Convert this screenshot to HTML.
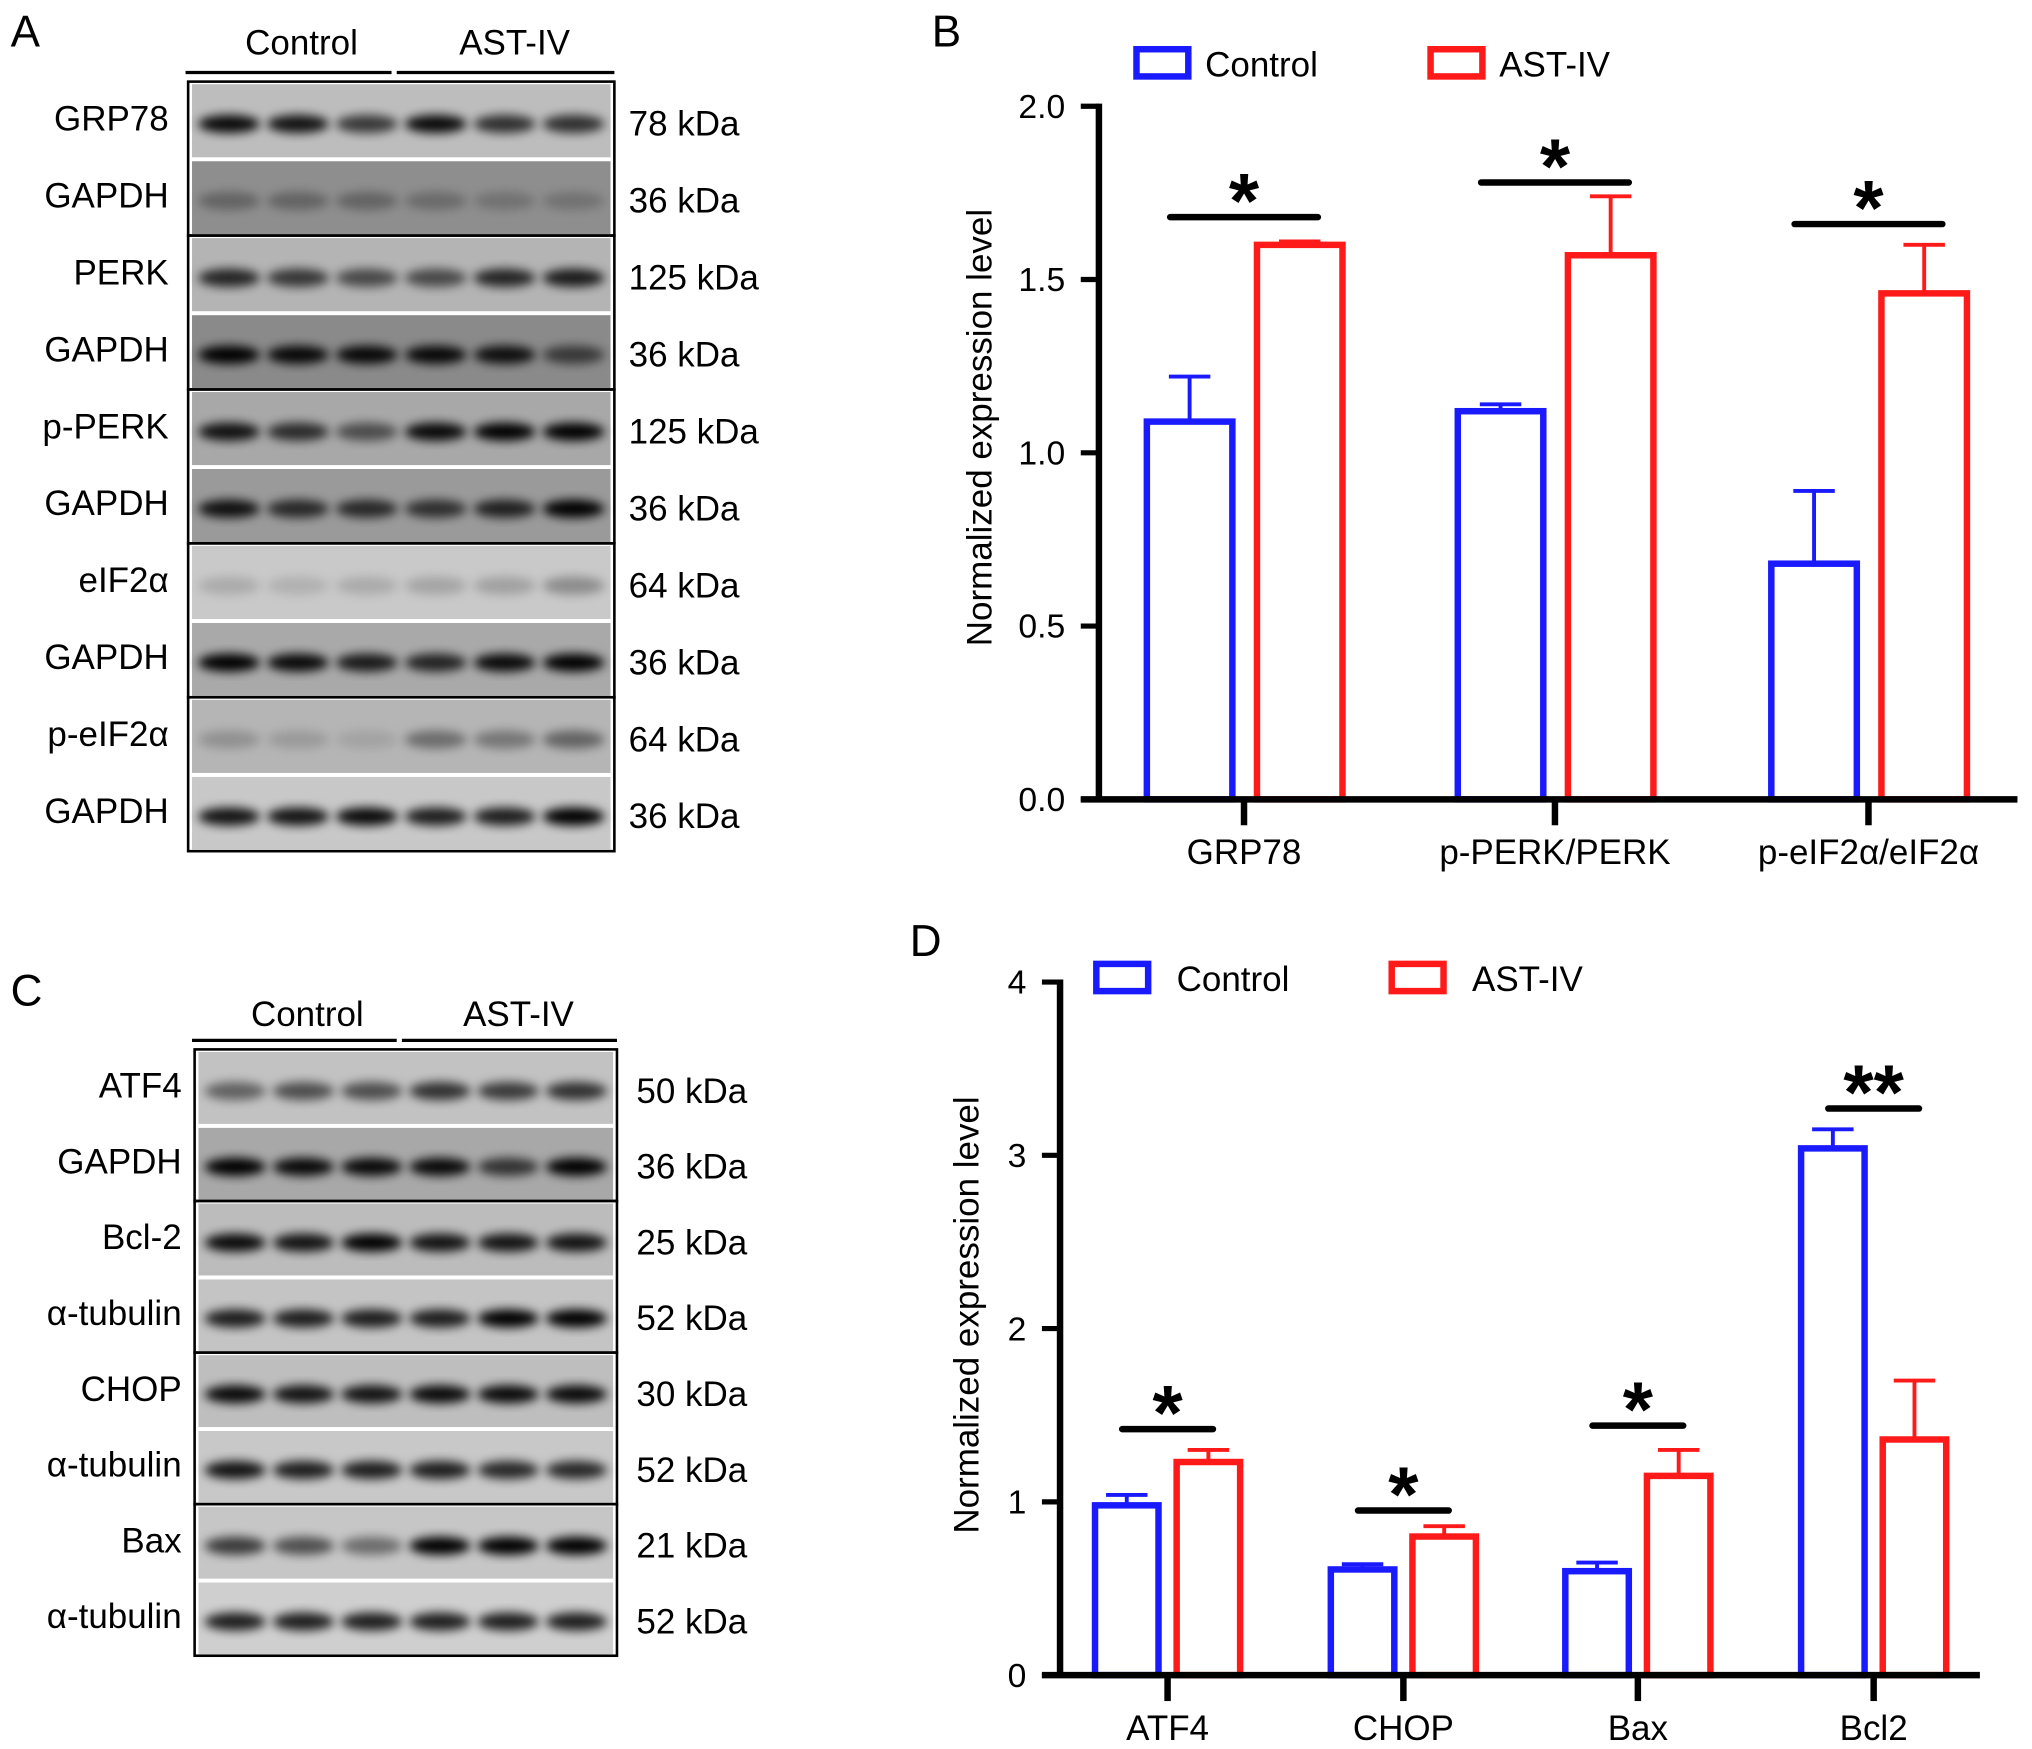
<!DOCTYPE html>
<html><head><meta charset="utf-8"><style>
html,body{margin:0;padding:0;background:#fff}
svg{display:block}
text{font-family:"Liberation Sans",Arial,sans-serif}
</style></head><body>
<svg id="fig" width="2032" height="1749" viewBox="0 0 1568 1350" xmlns="http://www.w3.org/2000/svg">
<defs>
<filter id="blur" x="-50%" y="-50%" width="200%" height="200%"><feGaussianBlur stdDeviation="4"/></filter>
</defs>
<text x="8" y="36" font-size="34">A</text>
<text x="719" y="36" font-size="34">B</text>
<text x="8" y="776" font-size="34">C</text>
<text x="702" y="738" font-size="34">D</text>
<g id="blots"></g>
<g id="chartB"></g>
<g id="chartD"></g>
</svg>
<script>
const NS="http://www.w3.org/2000/svg";
function mk(tag,attrs,parent,txt){const e=document.createElementNS(NS,tag);for(const k in attrs)e.setAttribute(k,attrs[k]);if(txt!==undefined)e.textContent=txt;parent.appendChild(e);return e;}

// ---- Chart B data ----
const catsB=["GRP78","p-PERK/PERK","p-eIF2\u03b1/eIF2\u03b1"];
const ctrlB=[1.09,1.12,0.68];
const ctrlErrB=[0.13,0.02,0.21];
const astB=[1.60,1.57,1.46];
const astErrB=[0.01,0.17,0.14];
const sigB=[1.68,1.78,1.66];
const sigLabB=["*","*","*"];
const ticksB=[0,0.5,1.0,1.5,2.0];
const tickLabB=["0.0","0.5","1.0","1.5","2.0"];

// ---- Chart D data ----
const catsD=["ATF4","CHOP","Bax","Bcl2"];
const ctrlD=[0.98,0.61,0.60,3.04];
const ctrlErrD=[0.06,0.03,0.05,0.11];
const astD=[1.23,0.80,1.15,1.36];
const astErrD=[0.07,0.06,0.15,0.34];
const sigD=[1.42,0.95,1.44,3.27];
const sigLabD=["*","*","*","**"];
const ticksD=[0,1,2,3,4];
const tickLabD=["0","1","2","3","4"];

function drawChart(g,o){
  const {x0,x1,y0,yTop,vmax,cats,ctrl,ctrlErr,ast,astErr,sig,sigLab,ticks,tickLab,centers,bw,gapL,gapR,sigHalf,titleX,titleY,leg}=o;
  const ys=v=>y0-(v/vmax)*(y0-yTop);
  cats.forEach((c,i)=>{
    const cx=centers[i];
    [[ctrl,ctrlErr,"#1a1aff",cx-gapL-bw,"control"],[ast,astErr,"#ff1a1a",cx+gapR,"ast"]].forEach(([vals,errs,col,bx,nm])=>{
      const yt=ys(vals[i]), ye=ys(vals[i]+errs[i]);
      const eb=mk("line",{x1:bx+bw/2,x2:bx+bw/2,y1:yt,y2:ye,stroke:col,"stroke-width":3},g);
      
      
      const cap=mk("line",{x1:bx+bw/2-16,x2:bx+bw/2+16,y1:ye,y2:ye,stroke:col,"stroke-width":3},g);
      
      
      const r=mk("rect",{x:bx,y:yt,width:bw,height:y0-yt,fill:"#fff",stroke:col,"stroke-width":5},g);
      
      
    });
    const sy=ys(sig[i]);
    const sl=mk("line",{x1:cx-sigHalf,x2:cx+sigHalf,y1:sy,y2:sy,stroke:"#000","stroke-width":5,"stroke-linecap":"round"},g);
    
    
    const st=mk("text",{x:cx,y:sy+8,"font-size":60,"font-weight":"bold","text-anchor":"middle"},g,sigLab[i]);
    
    
    const tk=mk("line",{x1:cx,x2:cx,y1:y0,y2:y0+20,stroke:"#000","stroke-width":5},g);
    
    
    const cl=mk("text",{x:cx,y:y0+50,"font-size":27,"text-anchor":"middle"},g,c);
    
    
  });
  const ya=mk("line",{x1:x0,x2:x0,y1:yTop-2,y2:y0+2,stroke:"#000","stroke-width":5},g);
  
  
  const xa=mk("line",{x1:x0-14,x2:x1,y1:y0,y2:y0,stroke:"#000","stroke-width":5},g);
  
  
  ticks.forEach((t,i)=>{
    const y=ys(t);
    const tl=mk("line",{x1:x0-14,x2:x0,y1:y,y2:y,stroke:"#000","stroke-width":4},g);
    
    
    const tx=mk("text",{x:x0-26,y:y+9,"font-size":26,"text-anchor":"end"},g,tickLab[i]);
    
    
  });
  const tt=mk("text",{x:titleX,y:titleY,"font-size":27,"text-anchor":"middle",transform:`rotate(-90 ${titleX} ${titleY})`},g,"Normalized expression level");
  
  
  [[leg.bx,"#1a1aff","Control"],[leg.rx,"#ff1a1a","AST-IV"]].forEach(([lx,col,lab])=>{
    const lr=mk("rect",{x:lx,y:leg.y,width:40,height:21,fill:"#fff",stroke:col,"stroke-width":5},g);
    
    
    const lt=mk("text",{x:lx+leg.off,y:leg.y+21,"font-size":27},g,lab);
    
    
  });
}

drawChart(document.getElementById("chartB"),{x0:848,x1:1557,y0:617,yTop:82,vmax:2,cats:catsB,ctrl:ctrlB,ctrlErr:ctrlErrB,ast:astB,astErr:astErrB,sig:sigB,sigLab:sigLabB,ticks:ticksB,tickLab:tickLabB,centers:[960,1200,1442],bw:66,gapL:9,gapR:10,sigHalf:57,titleX:765,titleY:330,leg:{bx:877,rx:1104,y:38,off:53}});
drawChart(document.getElementById("chartD"),{x0:818,x1:1528,y0:1293,yTop:758,vmax:4,cats:catsD,ctrl:ctrlD,ctrlErr:ctrlErrD,ast:astD,astErr:astErrD,sig:sigD,sigLab:sigLabD,ticks:ticksD,tickLab:tickLabD,centers:[901,1083,1264,1446],bw:49,gapL:7,gapR:7,sigHalf:35,titleX:755,titleY:1015,leg:{bx:846,rx:1074,y:744,off:62}});

const blotA={labels:["GRP78","GAPDH","PERK","GAPDH","p-PERK","GAPDH","eIF2\u03b1","GAPDH","p-eIF2\u03b1","GAPDH"],
 kda:["78 kDa","36 kDa","125 kDa","36 kDa","125 kDa","36 kDa","64 kDa","36 kDa","64 kDa","36 kDa"],
 bg:["#bdbdbd","#8e8e8e","#b4b4b4","#8a8a8a","#a8a8a8","#9a9a9a","#c9c9c9","#a9a9a9","#b5b5b5","#c8c8c8"],
 dens:[[.95,.9,.7,.95,.75,.75],[.3,.3,.3,.25,.2,.2],[.8,.7,.6,.6,.8,.85],[1,.95,.95,.95,.9,.6],[.9,.75,.55,.95,1,1],[.9,.75,.75,.7,.8,1],[.15,.12,.15,.18,.2,.3],[1,.95,.85,.8,.95,1],[.2,.15,.1,.4,.35,.45],[.9,.9,.95,.85,.85,1]]};
const blotC={labels:["ATF4","GAPDH","Bcl-2","\u03b1-tubulin","CHOP","\u03b1-tubulin","Bax","\u03b1-tubulin"],
 kda:["50 kDa","36 kDa","25 kDa","52 kDa","30 kDa","52 kDa","21 kDa","52 kDa"],
 bg:["#c2c2c2","#a8a8a8","#bcbcbc","#c4c4c4","#bebebe","#c8c8c8","#c6c6c6","#cfcfcf"],
 dens:[[.5,.6,.6,.75,.7,.75],[1,.95,.95,.95,.7,1],[.95,.9,1,.9,.9,.9],[.85,.85,.85,.85,1,1],[.95,.9,.9,.95,.95,.95],[.9,.85,.85,.85,.8,.8],[.7,.6,.45,1,1,1],[.85,.85,.85,.85,.85,.85]]};

function drawBlot(b,o){
  const g=document.getElementById("blots");
  const {x0,x1,yTop,rowH,labelX,kdaX,headY,lineY,lineSplit}=o;
  const h1=mk("text",{x:(x0+lineSplit)/2+8,y:headY,"font-size":27,"text-anchor":"middle"},g,"Control");
  
  
  const h2=mk("text",{x:(lineSplit+x1)/2+8,y:headY,"font-size":27,"text-anchor":"middle"},g,"AST-IV");
  
  
  const l1=mk("line",{x1:x0-2,x2:lineSplit-2,y1:lineY,y2:lineY,stroke:"#000","stroke-width":2.5},g);
  
  
  const l2=mk("line",{x1:lineSplit+2,x2:x1,y1:lineY,y2:lineY,stroke:"#000","stroke-width":2.5},g);
  
  
  const lw=(x1-x0-10)/6;
  b.labels.forEach((lab,i)=>{
    const y=yTop+i*rowH;
    const r=mk("rect",{x:x0+3,y:y+2,width:x1-x0-6,height:rowH-3,fill:b.bg[i]},g);
    
    
    b.dens[i].forEach((d,k)=>{
      const cx=x0+5+lw*(k+0.5);
      const e=mk("ellipse",{cx:cx,cy:y+rowH*0.55,rx:lw*0.45,ry:7,fill:"#000","fill-opacity":d,filter:"url(#blur)"},g);
      
      
    });
    const t=mk("text",{x:labelX,y:y+rowH/2+8,"font-size":27,"text-anchor":"end"},g,lab);
    
    
    const k=mk("text",{x:kdaX,y:y+rowH/2+12,"font-size":27},g,b.kda[i]);
    
    
    if(i%2===0){
      const bx=mk("rect",{x:x0,y:y,width:x1-x0,height:rowH*2,fill:"none",stroke:"#000","stroke-width":2},g);
      
      
    } else {
      const sep=mk("line",{x1:x0+3,x2:x1-3,y1:y+1,y2:y+1,stroke:"#fff","stroke-width":2},g);
      
      
    }
  });
}
drawBlot(blotA,{x0:145,x1:474,yTop:63,rowH:59.4,labelX:130,kdaX:485,headY:42,lineY:56,lineSplit:304});
drawBlot(blotC,{x0:150,x1:476,yTop:810,rowH:58.5,labelX:140,kdaX:491,headY:792,lineY:803,lineSplit:308});
</script>
</body></html>
